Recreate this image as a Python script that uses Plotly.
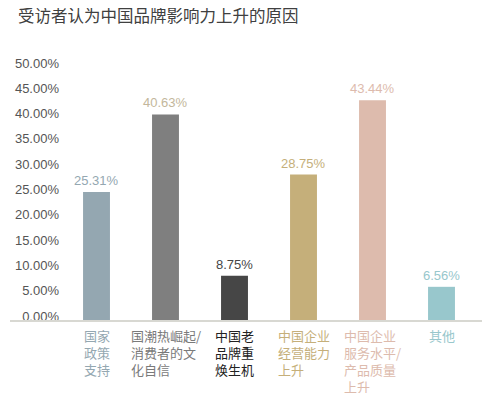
import plotly.graph_objects as go

title = "受访者认为中国品牌影响力上升的原因"
categories = ["国家<br>政策<br>支持", "国潮热崛起/<br>消费者的文<br>化自信", "中国老<br>品牌重<br>焕生机",
              "中国企业<br>经营能力<br>上升", "中国企业<br>服务水平/<br>产品质量<br>上升", "其他"]
values = [25.31, 40.63, 8.75, 28.75, 43.44, 6.56]
value_labels = ["25.31%", "40.63%", "8.75%", "28.75%", "43.44%", "6.56%"]
tick_vals = [0, 5, 10, 15, 20, 25, 30, 35, 40, 45, 50]
tick_text = ["0.00%", "5.00%", "10.00%", "15.00%", "20.00%", "25.00%", "30.00%", "35.00%", "40.00%", "45.00%", "50.00%"]

bar_colors = ["#94A7B1", "#7F7F7F", "#464646", "#C5AF7A", "#DDBBAD", "#98C7CC"]
value_colors = ["#94A7B1", "#C3B79B", "#464646", "#C5AF7A", "#DDBBAD", "#98C7CC"]
cat_colors = ["#94A7B1", "#7A7A7A", "#222222", "#C5AF7A", "#DDBBAD", "#98C7CC"]

NUM_FONT = "Liberation Sans, Arial, Noto Sans CJK SC"
CJK_FONT = "Noto Sans CJK SC, Liberation Sans"

W, H = 492, 385  # page body has 8px default margin
x_idx = list(range(len(values)))

fig = go.Figure(go.Bar(
    x=x_idx, y=values, width=0.39,
    marker=dict(color=bar_colors, line=dict(width=0)),
    hoverinfo="skip",
))

annotations = []
for i, (v, lbl) in enumerate(zip(values, value_labels)):
    annotations.append(dict(x=i, y=v, xref="x", yref="y", text=lbl, showarrow=False,
                            xanchor="center", yanchor="bottom", yshift=2,
                            font=dict(family=NUM_FONT, size=13, color=value_colors[i])))
for i, c in enumerate(categories):
    annotations.append(dict(x=i, y=0, xref="x", yref="y", text=c, showarrow=False,
                            xanchor="center", yanchor="top", yshift=-4, align="left",
                            font=dict(family=CJK_FONT, size=13, color=cat_colors[i])))

fig.update_layout(
    width=W, height=H,
    margin=dict(l=54, r=24, t=59, b=73),
    paper_bgcolor="white", plot_bgcolor="white",
    showlegend=False,
    title=dict(text=title, xref="container", yref="container", x=10 / W, y=1 - 8.5 / H,
               xanchor="left", yanchor="middle",
               font=dict(family=CJK_FONT, size=16.5, color="#404040")),
    xaxis=dict(range=[-0.5, 5.5], showticklabels=False, showgrid=False, zeroline=False,
               showline=False, fixedrange=True, automargin=False),
    yaxis=dict(range=[0, 50], tickvals=tick_vals, ticktext=tick_text, showgrid=False,
               zeroline=False, showline=False, ticks="", ticklabelshift=-4, ticklabelstandoff=2,
               automargin=False,
               tickfont=dict(family=NUM_FONT, size=13, color="#555555")),
    annotations=annotations,
    shapes=[dict(type="line", xref="paper", yref="paper", x0=(2 - 54) / 414, x1=(474 - 54) / 414,
                 y0=-0.004, y1=-0.004, line=dict(color="#D8D8D2", width=2))],
)

fig.write_html("out.html")
